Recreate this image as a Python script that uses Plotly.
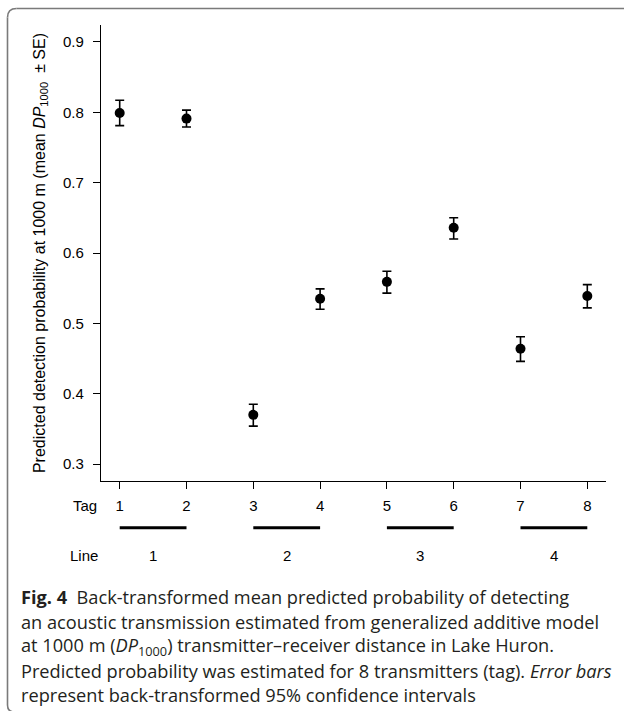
import plotly.graph_objects as go

# ---- data ----
tags = [1, 2, 3, 4, 5, 6, 7, 8]
tag_labels = ["1", "2", "3", "4", "5", "6", "7", "8"]
mean_dp = [0.799, 0.791, 0.370, 0.535, 0.559, 0.636, 0.464, 0.539]
upper_ci = [0.817, 0.803, 0.385, 0.549, 0.574, 0.650, 0.481, 0.555]
lower_ci = [0.781, 0.779, 0.354, 0.520, 0.543, 0.620, 0.446, 0.522]
line_pairs = [(1, 2), (3, 4), (5, 6), (7, 8)]
line_labels = ["1", "2", "3", "4"]
y_ticks = [0.3, 0.4, 0.5, 0.6, 0.7, 0.8, 0.9]
caption_lines = [
    "<b>Fig. 4</b>  Back-transformed mean predicted probability of detecting",
    "an acoustic transmission estimated from generalized additive model",
    "at 1000 m (<i>DP</i><sub>1000</sub>) transmitter–receiver distance in Lake Huron.",
    "Predicted probability was estimated for 8 transmitters (tag). <i>Error bars</i>",
    "represent back-transformed 95% confidence intervals",
]

# ---- layout geometry (pixels) ----
W, H = 624, 711
L, R, T, B = 101, 606, 25, 481


def px_x(px):
    return (px - L) / (R - L)


def px_y(py):
    return (B - py) / (B - T)


err_plus = [u - m for u, m in zip(upper_ci, mean_dp)]
err_minus = [m - l for l, m in zip(lower_ci, mean_dp)]

fig = go.Figure()
fig.add_trace(go.Scatter(
    x=tags, y=mean_dp, mode="markers",
    marker=dict(color="black", size=10),
    error_y=dict(type="data", symmetric=False, array=err_plus, arrayminus=err_minus,
                 color="black", thickness=1.6, width=4.5),
    showlegend=False, hoverinfo="x+y",
))

axis_font = dict(family="Liberation Sans, Arial, sans-serif", size=15, color="black")

fig.update_layout(
    width=W, height=H,
    margin=dict(l=L, r=W - R, t=T, b=H - B),
    paper_bgcolor="white", plot_bgcolor="white",
    font=axis_font,
    xaxis=dict(
        range=[0.72, 8.28], tickvals=tags, ticktext=tag_labels,
        showline=True, linecolor="black", linewidth=1.3,
        ticks="outside", ticklen=7, tickwidth=1.3, tickcolor="black",
        showgrid=False, zeroline=False, tickfont=axis_font,
        ticklabelstandoff=4,
    ),
    yaxis=dict(
        range=[0.276, 0.924], tickvals=y_ticks, ticktext=[f"{v:.1f}" for v in y_ticks],
        showline=True, linecolor="black", linewidth=1.3,
        ticks="outside", ticklen=7, tickwidth=1.3, tickcolor="black",
        showgrid=False, zeroline=False, tickfont=axis_font,
        ticklabelstandoff=6,
        title=dict(text="Predicted detection probability at 1000 m (mean <i>DP</i><sub>1000</sub>  ± SE)",
                   font=dict(family="Liberation Sans, Arial, sans-serif", size=16, color="black"),
                   standoff=13),
    ),
)

shapes = []
# pair lines under tags
for a, b in line_pairs:
    shapes.append(dict(type="line", xref="x", yref="paper", x0=a, x1=b,
                       y0=px_y(527.7), y1=px_y(527.7),
                       line=dict(color="black", width=3)))

# rounded frame (top and left edges visible)
frame = dict(color="#7a7a7a", width=1.6)
fx, fy, rad = 7.5, 8.5, 9
shapes.append(dict(type="line", xref="paper", yref="paper",
                   x0=px_x(fx + rad), x1=px_x(W + 5), y0=px_y(fy), y1=px_y(fy), line=frame))
shapes.append(dict(type="line", xref="paper", yref="paper",
                   x0=px_x(fx), x1=px_x(fx), y0=px_y(fy + rad), y1=px_y(H - 6), line=frame))
shapes.append(dict(type="path", xref="paper", yref="paper",
                   path=(f"M {px_x(fx)},{px_y(fy + rad)} Q {px_x(fx)},{px_y(fy)} "
                         f"{px_x(fx + rad)},{px_y(fy)}"), line=frame))
shapes.append(dict(type="path", xref="paper", yref="paper",
                   path=(f"M {px_x(fx)},{px_y(H - 6)} Q {px_x(fx)},{px_y(H + 1)} "
                         f"{px_x(fx + 7)},{px_y(H + 1)}"), line=frame))
fig.update_layout(shapes=shapes)

annotations = []
annotations.append(dict(text="Tag", xref="paper", yref="paper", x=px_x(99), y=px_y(505.7),
                        xanchor="right", yanchor="middle", showarrow=False, font=axis_font))
annotations.append(dict(text="Line", xref="paper", yref="paper", x=px_x(100), y=px_y(555),
                        xanchor="right", yanchor="middle", showarrow=False, font=axis_font))
for (a, b), lab in zip(line_pairs, line_labels):
    annotations.append(dict(text=lab, xref="x", yref="paper", x=(a + b) / 2, y=px_y(555),
                            xanchor="center", yanchor="middle", showarrow=False, font=axis_font))

cap_font = dict(family="Open Sans, Noto Sans, sans-serif", size=18.2, color="#231f20")
cap_y = [597, 622, 646, 671, 695]
for txt, cy in zip(caption_lines, cap_y):
    annotations.append(dict(text=txt, xref="paper", yref="paper", x=px_x(19), y=px_y(cy),
                            xanchor="left", yanchor="middle", showarrow=False, font=cap_font))
fig.update_layout(annotations=annotations)

fig.write_html("out.html", config={"displayModeBar": False},
               post_script="document.body.style.margin='0';")
